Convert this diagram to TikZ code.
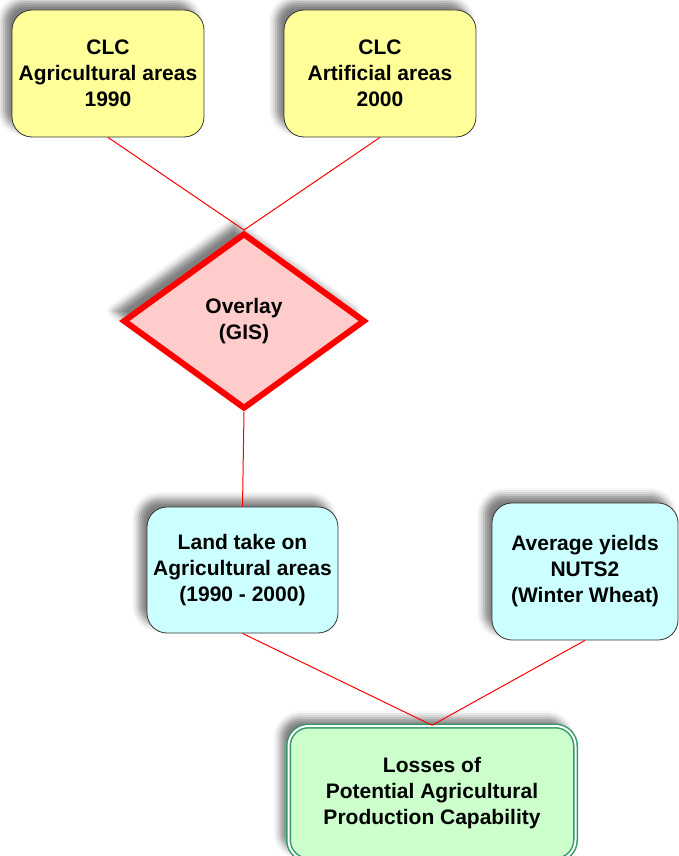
\documentclass[tikz,border=0pt]{standalone}
\usepackage{fontspec}
\setmainfont{Liberation Sans}
\usetikzlibrary{shapes.geometric,shadows.blur}

\definecolor{clcyellow}{HTML}{FFFF99}
\definecolor{overlaypink}{HTML}{FFCCCC}
\definecolor{landcyan}{HTML}{CCFFFF}
\definecolor{lossgreen}{HTML}{CCFFCC}
\definecolor{lossedge}{HTML}{339966}

\tikzset{
  infobox/.style={draw=black!80, line width=0.8pt, rounded corners=20pt,
    align=center, inner sep=0pt, font=\fontsize{21}{26}\selectfont\bfseries,
    blur shadow={shadow xshift=-8pt, shadow yshift=8pt, shadow blur radius=7pt, shadow opacity=50}},
  link/.style={draw=red, line width=1pt}
}

\begin{document}
\begin{tikzpicture}[x=1pt, y=-1pt]
    \useasboundingbox (0,0) rectangle (678,856);

    \node[infobox, fill=clcyellow, minimum width=192pt, minimum height=127pt]
      (agri) at (108,73.5) {CLC\\Agricultural areas\\1990};
    \node[infobox, fill=clcyellow, minimum width=192pt, minimum height=127pt]
      (arti) at (380,73.5) {CLC\\Artificial areas\\2000};

    \node[diamond, draw=red, line width=6pt, fill=overlaypink, inner sep=0pt,
      minimum width=242pt, minimum height=176pt, align=center,
      font=\fontsize{21}{26}\selectfont\bfseries,
      blur shadow={shadow xshift=-10pt, shadow yshift=10pt, shadow blur radius=7pt, shadow opacity=50}]
      (overlay) at (244,321) {Overlay\\(GIS)};

    \node[infobox, fill=landcyan, minimum width=191pt, minimum height=126pt]
      (landtake) at (242.5,570) {Land take on\\Agricultural areas\\ (1990 - 2000)};
    \node[infobox, fill=landcyan, minimum width=186pt, minimum height=137pt]
      (yields) at (585,571.5) {Average yields\\NUTS2\\(Winter Wheat)};

    \node[infobox, fill=lossgreen, draw=lossedge, line width=1.5pt,
      double=white, double distance=2pt, minimum width=287pt, minimum height=134pt]
      (losses) at (432,793) {Losses of\\Potential Agricultural\\Production Capability};

    \draw[link] (agri.south) -- (overlay.north);
    \draw[link] (arti.south) -- (overlay.north);
    \draw[link] (overlay.south) -- (landtake.north);
    \draw[link] (landtake.south) -- (losses.north);
    \draw[link] (yields.south) -- (losses.north);
\end{tikzpicture}
\end{document}
